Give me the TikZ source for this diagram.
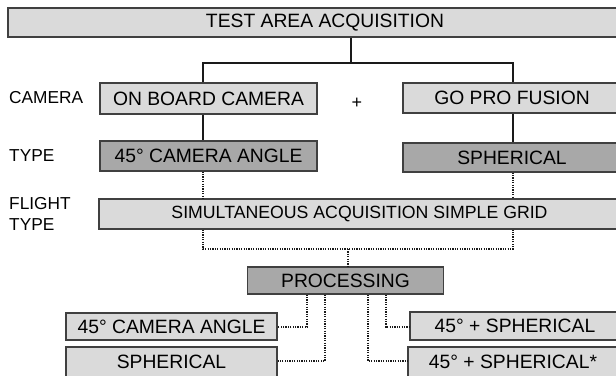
\documentclass[tikz,border=0pt]{standalone}
\usepackage{fontspec}
\setmainfont{Liberation Sans}
\definecolor{lightc}{HTML}{DADADA}
\definecolor{darkc}{HTML}{A8A8A8}
\definecolor{bordc}{HTML}{404040}
\definecolor{linec}{HTML}{1A1A1A}
\begin{document}
\begin{tikzpicture}[x=1pt,y=-1pt,
  box/.style={draw=bordc, line width=1.3pt, fill=lightc, inner sep=0pt, font=\fontsize{19.3}{21}\selectfont, text=black},
  dbox/.style={box, fill=darkc},
  lbl/.style={anchor=west, inner sep=0pt, font=\fontsize{17.3}{19}\selectfont, text=black},
  sline/.style={line width=1.8pt, draw=linec},
  dline/.style={line width=1.6pt, draw=linec, dash pattern=on 1.2pt off 1.2pt}]
\useasboundingbox (0,0) rectangle (616,375);
% boxes
\node[box, minimum width=634pt, minimum height=29pt] (top) at (325,22.5) {TEST AREA ACQUISITION};
\node[box, minimum width=217pt, minimum height=31pt] (onboard) at (208.5,98.5) {ON BOARD CAMERA};
\node[box, minimum width=218pt, minimum height=30pt] (gopro) at (512,98) {GO PRO FUSION};
\node[dbox, minimum width=217pt, minimum height=30pt] (ang) at (208.5,156) {45° CAMERA ANGLE};
\node[dbox, minimum width=218pt, minimum height=29pt] (sph) at (512,157.5) {SPHERICAL};
\node[box, minimum width=521pt, minimum height=30pt, font=\fontsize{17.7}{19}\selectfont] (sim) at (359.5,214) {SIMULTANEOUS ACQUISITION SIMPLE GRID};
\node[dbox, minimum width=196pt, minimum height=27pt] (proc) at (345.5,280.5) {PROCESSING};
\node[box, minimum width=211pt, minimum height=27pt] (oa) at (171.5,326.5) {45° CAMERA ANGLE};
\node[box, minimum width=211pt, minimum height=30pt] (os) at (171.5,362) {SPHERICAL};
\node[box, minimum width=210pt, minimum height=28pt] (ra) at (515,326) {45° + SPHERICAL};
\node[box, minimum width=210pt, minimum height=30pt] (rs) at (513,362) {45° + SPHERICAL*};
% labels
\node[lbl] (lcam) at (9,98) {CAMERA};
\node[lbl] (ltype) at (9,155.5) {TYPE};
\node[lbl] (lflight) at (9,203.5) {FLIGHT};
\node[lbl] (lftype) at (9,224.5) {TYPE};
\node[inner sep=0pt, font=\fontsize{18}{19}\selectfont] (plus) at (357,103.5) {+};
% connectors
\coordinate (jc) at (351,63);
\coordinate (jl) at (203,63);
\coordinate (jr) at (513,63);
\draw[sline] (top.south -| jc) -- (jc);
\draw[sline] (onboard.north -| jl) -- (jl) -- (jr) -- (gopro.north -| jr);
\draw[sline] (onboard.south -| jl) -- (ang.north -| jl);
\draw[sline] (gopro.south -| jr) -- (sph.north -| jr);
\draw[dline] (ang.south -| jl) -- (sim.north -| jl);
\draw[dline] (sph.south -| jr) -- (sim.north -| jr);
\coordinate (dl) at (203,249);
\coordinate (dr) at (513,249);
\coordinate (dc) at (348,249);
\draw[dline] (sim.south -| dl) -- (dl) -- (dr) -- (sim.south -| dr);
\draw[dline] (dc) -- (proc.north -| dc);
\coordinate (p1) at (307,327);
\coordinate (p2) at (325,361);
\coordinate (p3) at (386,327);
\coordinate (p4) at (368,361);
\draw[dline] (proc.south -| p1) -- (p1) -- (oa.east |- p1);
\draw[dline] (proc.south -| p2) -- (p2) -- (os.east |- p2);
\draw[dline] (proc.south -| p3) -- (p3) -- (ra.west |- p3);
\draw[dline] (proc.south -| p4) -- (p4) -- (rs.west |- p4);
\end{tikzpicture}
\end{document}
